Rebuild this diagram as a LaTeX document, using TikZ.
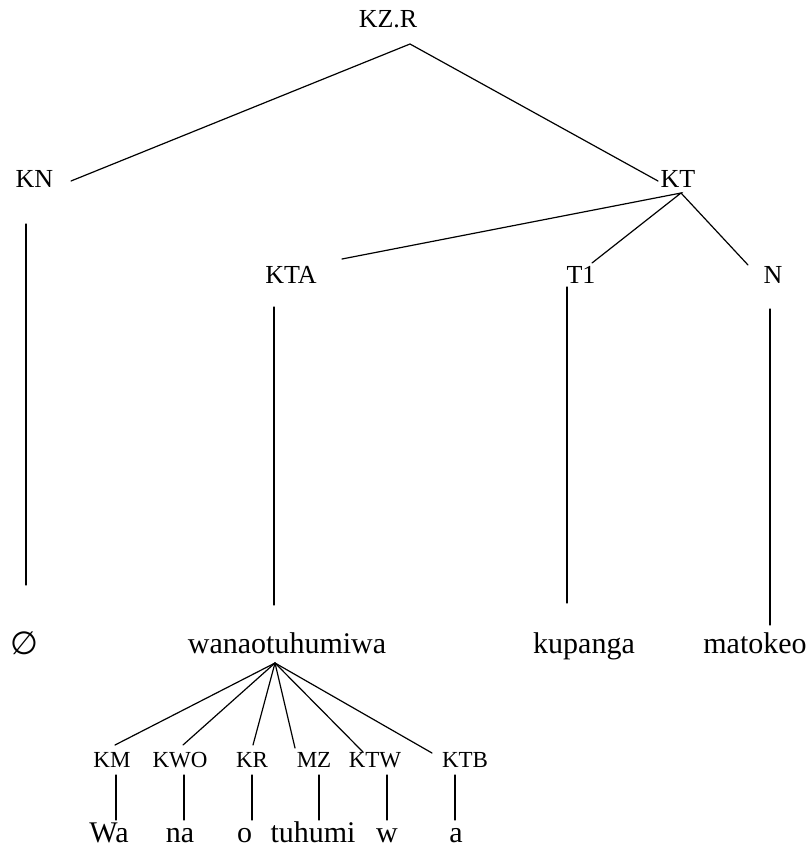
\documentclass[tikz,border=0pt]{standalone}
\usepackage{fontspec}
\setmainfont{Liberation Serif}
\newfontfamily\symfam{DejaVu Sans}
\begin{document}
\begin{tikzpicture}[x=1pt,y=-1pt,
  lbl/.style={inner sep=0pt,anchor=base,font=\fontsize{26}{30}\selectfont},
  leaf/.style={inner sep=0pt,anchor=base,font=\fontsize{30}{34}\selectfont},
  small/.style={inner sep=0pt,anchor=base,font=\fontsize{23}{27}\selectfont},
  edge/.style={line width=1.2pt,line cap=round}]
\useasboundingbox (0,0) rectangle (809,848);
% upper labels
\node[lbl] (kzr) at (388,28) {KZ.R};
\node[lbl] (kn)  at (34.5,187) {KN};
\node[lbl] (kt)  at (678,187) {KT};
\node[lbl] (kta) at (291,283) {KTA};
\node[lbl] (t1)  at (581,283) {T1};
\node[lbl] (n)   at (773,283) {N};
% words
\node[leaf] (nul) at (24,654) {\symfam\fontsize{32}{36}\selectfont ∅};
\node[leaf] (wan) at (287,653) {wanaotuhumiwa};
\node[leaf] (kup) at (584,653) {kupanga};
\node[leaf] (mat) at (755,653) {matokeo};
% morphemes
\node[small] (km)  at (112,767) {KM};
\node[small] (kwo) at (180,767) {KWO};
\node[small] (kr)  at (252,767) {KR};
\node[small] (mz)  at (314,767) {MZ};
\node[small] (ktw) at (375,767) {KTW};
\node[small] (ktb) at (465,767) {KTB};
\node[leaf] (wa)  at (109,842) {Wa};
\node[leaf] (na)  at (180,842) {na};
\node[leaf] (o)   at (244.5,842) {o};
\node[leaf] (tu)  at (313,842) {tuhumi};
\node[leaf] (w)   at (387,842) {w};
\node[leaf] (a)   at (456,842) {a};
% branch points
\coordinate (kzrB) at (410,44);
\coordinate (knT) at (71,181);
\coordinate (ktT) at (658,181);
\coordinate (ktB) at (681,193);
\coordinate (ktaT) at (342,259);
\coordinate (t1T) at (592,263);
\coordinate (nT) at (748,265);
\coordinate (wanB) at (275,663);
\draw[edge] (knT) -- (kzrB) -- (ktT);
\draw[edge] (ktaT) -- (ktB) -- (t1T);
\draw[edge] (ktB) -- (nT);
\draw[edge] (26,224) coordinate (knB) -- (26,585) coordinate (nulT);
\draw[edge] (274,307) coordinate (ktaB) -- (274,605) coordinate (wanT);
\draw[edge] (567,287) coordinate (t1B) -- (567,603) coordinate (kupT);
\draw[edge] (770,309) coordinate (nB) -- (770,625) coordinate (matT);
% fan below the word
\foreach \tx/\ty in {115/745,183/745,253/745,295/748,363/752,432/753}
  \draw[edge] (wanB) -- (\tx,\ty);
% morpheme stems
\foreach \sx in {116,184,252,319,387,455}
  \draw[edge] (\sx,775) -- (\sx,820);
\end{tikzpicture}
\end{document}
